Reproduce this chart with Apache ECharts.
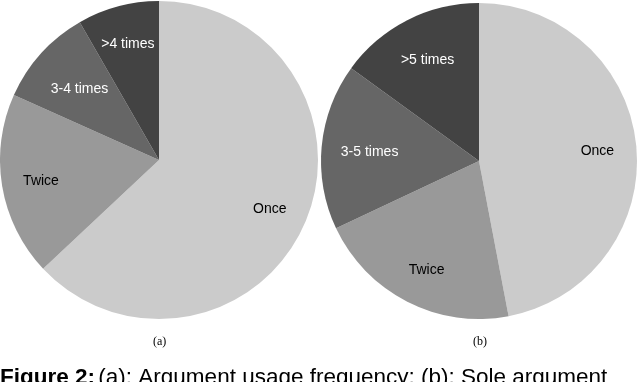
<!DOCTYPE html>
<html>
<head>
<meta charset="utf-8">
<script src="https://cdn.jsdelivr.net/npm/echarts@6/dist/echarts.min.js"></script>
<style>
  html, body { margin: 0; padding: 0; background: #fff; }
  #chart { width: 640px; height: 382px; }
</style>
</head>
<body>
<div id="chart"></div>
<script>
// (a) argument usage frequency
const categoriesA = ['Once', 'Twice', '3-4 times', '>4 times']
const valuesA = [63, 18.7, 10, 8.3]
// (b) sole argument
const categoriesB = ['Once', 'Twice', '3-5 times', '>5 times']
const valuesB = [47, 21, 17, 15]

const sliceColors = ['#cbcbcb', '#999999', '#666666', '#434343']
const labelColors = ['#000', '#000', '#fff', '#fff']

const chart = echarts.init(document.getElementById('chart'))

function pieSeries(names, values, center, r, nudge) {
  const data = names.map((n, i) => ({
    name: n,
    value: values[i],
    itemStyle: { color: sliceColors[i] },
    label: { color: labelColors[i], offset: nudge[i] }
  }))
  return [
    {
      type: 'pie',
      center: center,
      radius: r,
      startAngle: 90,
      silent: true,
      label: { show: false },
      labelLine: { show: false },
      data: data
    },
    {
      // transparent ring, only used to place the labels further out
      type: 'pie',
      center: center,
      radius: [r * 0.48, r],
      startAngle: 90,
      silent: true,
      itemStyle: { color: 'transparent' },
      label: {
        show: true,
        position: 'inside',
        fontFamily: 'Liberation Sans',
        fontSize: 14
      },
      labelLine: { show: false },
      data: data.map(d => ({ name: d.name, value: d.value, label: d.label }))
    }
  ]
}

const option = {
  animation: false,
  series: [
    ...pieSeries(categoriesA, valuesA, [159, 160], 159,
      [[0, 1], [1, 1], [10, 10], [0, 1]]),
    ...pieSeries(categoriesB, valuesB, [479, 161], 158,
      [[-1, 1], [2, 2], [10, 2], [3, 6]])
  ],
  graphic: [
    {
      type: 'text',
      left: 153,
      top: 336,
      style: { text: '(a)', font: '12px "Liberation Serif"', fill: '#000' }
    },
    {
      type: 'text',
      left: 473,
      top: 336,
      style: { text: '(b)', font: '12px "Liberation Serif"', fill: '#000' }
    },
    {
      type: 'text',
      left: 0,
      top: 366,
      style: {
        rich: {
          b: { font: 'bold 22.5px "Liberation Sans"', fill: '#000' },
          n: { font: '22.5px "Liberation Sans"', fill: '#000' }
        },
        text: '{b|Figure 2:} {n|(a): Argument usage frequency; (b): Sole argument}'
      }
    }
  ]
}

chart.setOption(option)
</script>
</body>
</html>
